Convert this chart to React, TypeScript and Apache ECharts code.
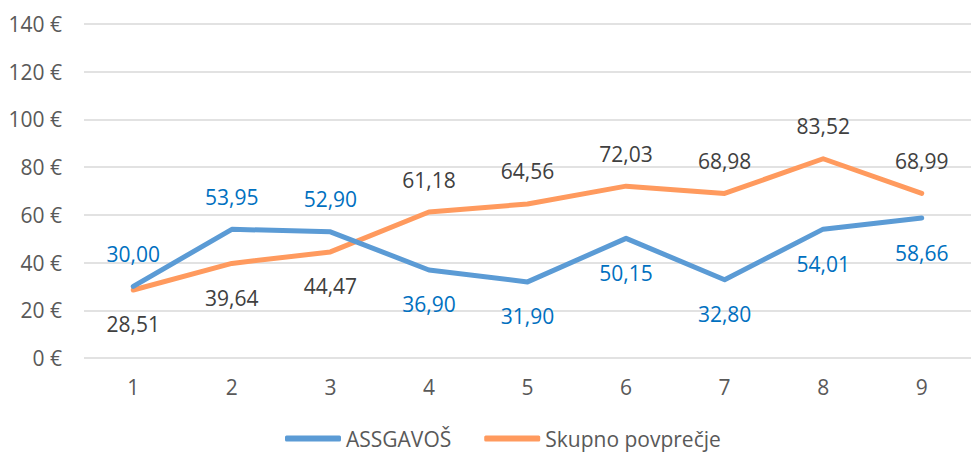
import React, { useEffect, useRef } from "react";
import * as echarts from "echarts";

const categories = ["1", "2", "3", "4", "5", "6", "7", "8", "9"];
const assgavosValues = [30.0, 53.95, 52.9, 36.9, 31.9, 50.15, 32.8, 54.01, 58.66];
const averageValues = [28.51, 39.64, 44.47, 61.18, 64.56, 72.03, 68.98, 83.52, 68.99];
const assgavosLabelPos = ["top", "top", "top", "bottom", "bottom", "bottom", "bottom", "bottom", "bottom"];
const averageLabelPos = ["bottom", "bottom", "bottom", "top", "top", "top", "top", "top", "top"];
const seriesNames = ["ASSGAVOŠ", "Skupno povprečje"];

const FONT = "'Open Sans', 'Noto Sans', sans-serif";
const fmt = (v: number) => v.toFixed(2).replace(".", ",");

export default function App() {
  const ref = useRef<HTMLDivElement>(null);
  useEffect(() => {
    if (!ref.current) return;
    const chart = echarts.init(ref.current, null, { renderer: "svg" });
    const mk = (vals: number[], pos: string[]) =>
      vals.map((v, i) => ({
        value: v,
        label: { position: pos[i], distance: pos[i] === "top" ? 22 : 24 },
      }));
    const lbl = (color: string) => ({
      show: true,
      color,
      fontSize: 21,
      fontFamily: FONT,
      distance: 20,
      formatter: (p: any) => fmt(p.value),
    });
    chart.setOption({
      animation: false,
      textStyle: { fontFamily: FONT },
      grid: { left: 84, top: 24, bottom: 96, width: 891 },
      legend: {
        bottom: 0,
        left: 280,
        icon: "roundRect",
        itemWidth: 56,
        itemHeight: 6,
        itemGap: 33,
        textStyle: { color: "#595959", fontSize: 21, fontFamily: FONT },
        data: seriesNames,
      },
      xAxis: {
        type: "category",
        data: categories,
        boundaryGap: true,
        axisLine: { show: false },
        axisTick: { show: false },
        axisLabel: { color: "#595959", fontSize: 21, fontFamily: FONT, margin: 18 },
      },
      yAxis: {
        type: "value",
        min: 0,
        max: 140,
        interval: 20,
        axisLine: { show: false },
        axisTick: { show: false },
        axisLabel: { color: "#595959", fontSize: 21, fontFamily: FONT, margin: 22, formatter: (v: number) => `${v} €` },
        splitLine: { lineStyle: { color: "#D9D9D9", width: 1.5 } },
      },
      series: [
        {
          name: seriesNames[0],
          type: "line",
          data: mk(assgavosValues, assgavosLabelPos),
          symbol: "circle",
          symbolSize: 0.01,
          showSymbol: true,
          label: lbl("#0070C0"),
          lineStyle: { color: "#5B9BD5", width: 5, cap: "round", join: "round" },
          itemStyle: { color: "#5B9BD5" },
          z: 3,
        },
        {
          name: seriesNames[1],
          type: "line",
          data: mk(averageValues, averageLabelPos),
          symbol: "circle",
          symbolSize: 0.01,
          showSymbol: true,
          label: lbl("#404040"),
          lineStyle: { color: "#FF9A5E", width: 5, cap: "round", join: "round" },
          itemStyle: { color: "#FF9A5E" },
          z: 2,
        },
      ],
    });
    return () => chart.dispose();
  }, []);
  return <div ref={ref} style={{ position: "fixed", left: 0, top: 0, width: 971, height: 454, background: "#fff" }} />;
}
